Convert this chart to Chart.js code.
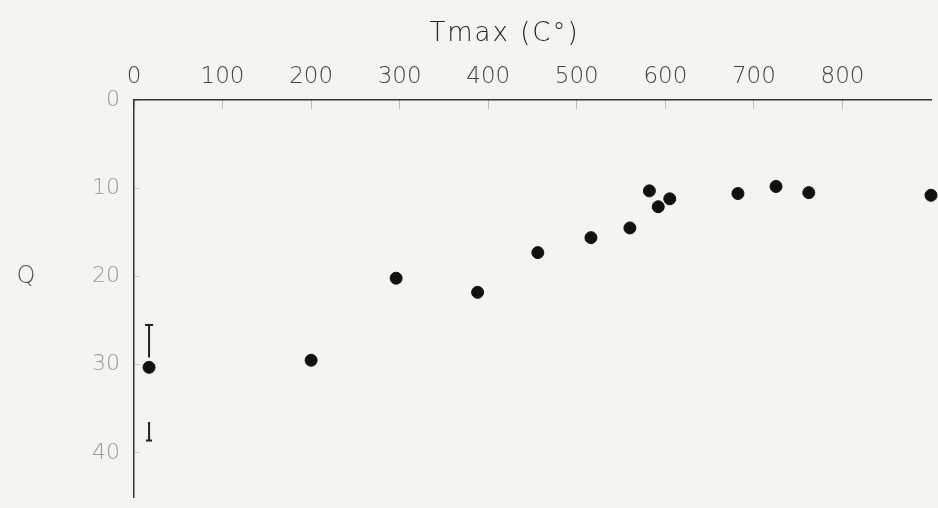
<!DOCTYPE html>
<html>
<head>
<meta charset="utf-8">
<script src="https://cdn.jsdelivr.net/npm/chart.js@4.4.1/dist/chart.umd.min.js"></script>
<style>
    html, body { margin: 0; padding: 0; background: #f4f4f2; }
    #wrap { width: 938px; height: 508px; }
</style>
</head>
<body>
<div id="wrap"><canvas id="qChart" width="938" height="508"></canvas></div>
<script>
// Q against Tmax
const tmax = [17, 200, 296, 388, 456, 516, 560, 582, 592, 605, 682, 725, 762, 900];
const qValues = [30.3, 29.5, 20.2, 21.8, 17.3, 15.6, 14.5, 10.3, 12.1, 11.2, 10.6, 9.8, 10.5, 10.8];

// error bar on the first point (drawn in two pieces, as in the original)
const errX = 17;
const errUpper = [25.5, 29.2];
const errLower = [36.5, 38.6];

const xTicks = [0, 100, 200, 300, 400, 500, 600, 700, 800];
const yTicks = [0, 10, 20, 30, 40];

const FONT = '"DejaVu Sans", sans-serif';

// Axis titles: "Tmax (C°)" above, "Q" set horizontally at the left
const labelPlugin = {
    id: 'labels',
    afterDraw(chart) {
        const ctx = chart.ctx;
        const area = chart.chartArea;
        const y = chart.scales.y;
        ctx.save();
        ctx.fillStyle = '#222';
        ctx.textAlign = 'center';
        ctx.textBaseline = 'middle';
        ctx.font = '300 26px ' + FONT;
        ctx.letterSpacing = '2px';
        ctx.fillText('Tmax (C°)', (area.left + area.right) / 2 - 28, 34);
        ctx.letterSpacing = '0px';
        ctx.fillStyle = '#555';
        ctx.font = '300 24px ' + FONT;
        ctx.fillText('Q', 26, y.getPixelForValue(20));
        ctx.restore();
    }
};

const points = tmax.map((t, i) => ({ x: t, y: qValues[i] }));
const errData = [
    { x: errX, y: errUpper[0] }, { x: errX, y: errUpper[1] },
    { x: errX, y: null },
    { x: errX, y: errLower[0] }, { x: errX, y: errLower[1] }
];

new Chart(document.getElementById('qChart').getContext('2d'), {
    type: 'scatter',
    data: {
        datasets: [{
            label: 'Q',
            data: points,
            backgroundColor: '#111',
            borderColor: '#111',
            pointRadius: 6,
            pointHoverRadius: 6,
            clip: 10
        }, {
            label: 'error',
            data: errData,
            showLine: true,
            spanGaps: false,
            borderColor: '#222',
            borderWidth: 2,
            pointStyle: 'line',
            pointRadius: [4, 0, 0, 0, 3],
            pointBorderWidth: 2,
            pointBorderColor: '#222'
        }]
    },
    options: {
        responsive: false,
        animation: false,
        layout: { padding: { top: 0, left: 0, right: 6, bottom: 11 } },
        plugins: {
            legend: { display: false },
            tooltip: { enabled: false }
        },
        scales: {
            x: {
                type: 'linear',
                position: 'top',
                min: 0,
                max: 900,
                afterBuildTicks: scale => { scale.ticks = xTicks.map(v => ({ value: v })); },
                afterFit: scale => { scale.height = 100; },
                border: { display: true, color: '#333', width: 1.5 },
                grid: {
                    drawOnChartArea: false,
                    drawTicks: true,
                    tickLength: -9,
                    color: '#bbb',
                    lineWidth: 1
                },
                ticks: {
                    color: '#444',
                    padding: 18,
                    maxRotation: 0,
                    font: { family: FONT, size: 23, weight: '300' }
                }
            },
            y: {
                type: 'linear',
                reverse: true,
                min: 0,
                max: 45,
                afterBuildTicks: scale => { scale.ticks = yTicks.map(v => ({ value: v })); },
                afterFit: scale => {
                    scale.width = 134;
                    scale.paddingTop = 0;
                    scale.paddingBottom = 0;
                },
                border: { display: true, color: '#333', width: 1.5 },
                grid: {
                    drawOnChartArea: false,
                    drawTicks: true,
                    tickLength: -6,
                    color: '#ccc'
                },
                ticks: {
                    color: '#9a9a9a',
                    padding: 20,
                    font: { family: FONT, size: 22, weight: '300' }
                }
            }
        }
    },
    plugins: [labelPlugin]
});
</script>
</body>
</html>
